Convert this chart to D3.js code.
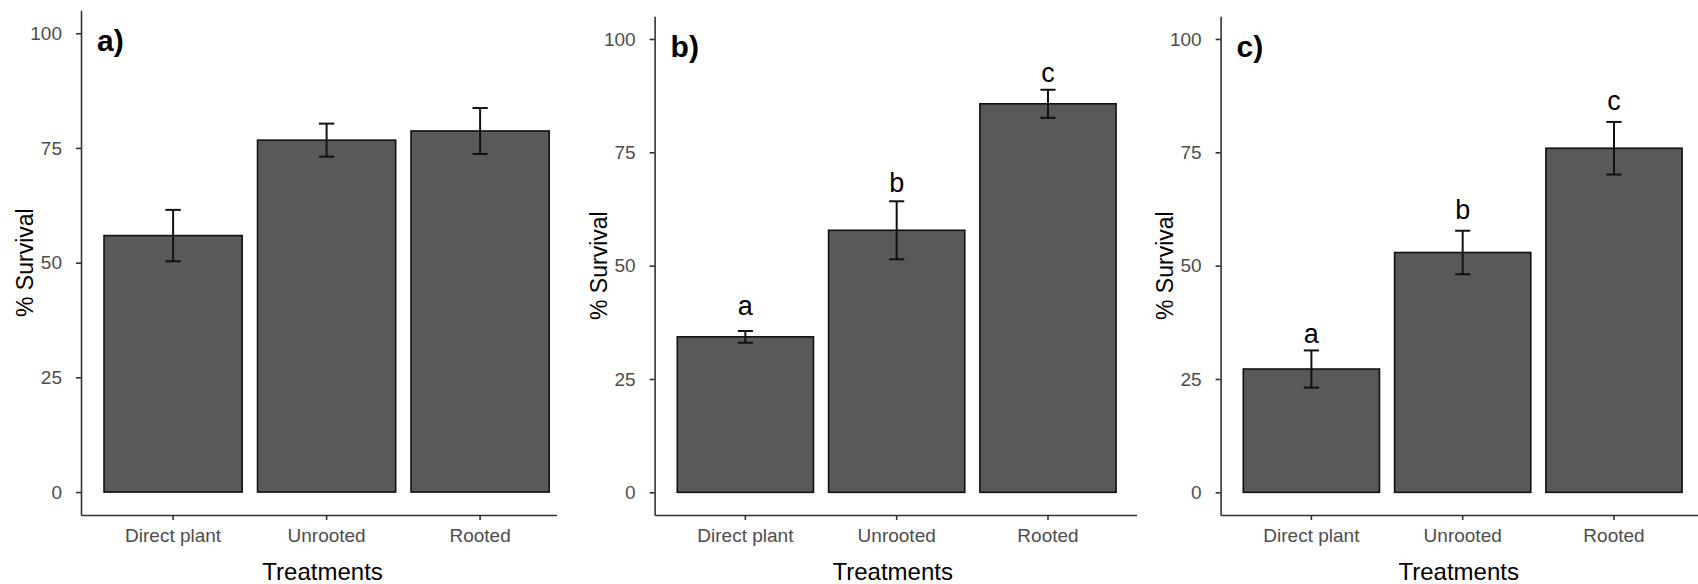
<!DOCTYPE html>
<html>
<head>
<meta charset="utf-8">
<script src="https://cdn.jsdelivr.net/npm/d3@7"></script>
<style>
  body { margin: 0; background: #fff; }
  text { font-family: "Liberation Sans", Arial, sans-serif; }
</style>
</head>
<body>
<script>
var WIDTH = 1698;
var HEIGHT = 584;

var CATEGORIES = ['Direct plant', 'Unrooted', 'Rooted'];
var Y_TICKS = [0, 25, 50, 75, 100];
var PANEL_NAMES = ['a)', 'b)', 'c)'];

// % survival and standard error, one array per panel
var SURVIVAL_A = [55.9, 76.7, 78.7];
var SE_A = [5.6, 3.6, 5.0];
var SURVIVAL_B = [34.3, 57.8, 85.7];
var SE_B = [1.3, 6.4, 3.1];
var SURVIVAL_C = [27.2, 52.9, 75.9];
var SE_C = [4.1, 4.8, 5.8];

// significance letters (panel a has none)
var LETTERS_A = [];
var LETTERS_B = ['a', 'b', 'c'];
var LETTER_Y_B = [39.1, 66.3, 90.4];
var LETTERS_C = ['a', 'b', 'c'];
var LETTER_Y_C = [33.0, 60.4, 84.3];

var BAR_COLOR = '#595959';
var TEXT_GREY = '#4d4d4d';
var AXIS_COLOR = '#333333';

var panels = [
    {name: PANEL_NAMES[0], values: SURVIVAL_A, se: SE_A, letters: LETTERS_A, letterY: [],
     left: 81, top: 10.3, bottom: 515, step: 153.5, clipRight: 557},
    {name: PANEL_NAMES[1], values: SURVIVAL_B, se: SE_B, letters: LETTERS_B, letterY: LETTER_Y_B,
     left: 654.6, top: 16.3, bottom: 515, step: 151.3, clipRight: 1137},
    {name: PANEL_NAMES[2], values: SURVIVAL_C, se: SE_C, letters: LETTERS_C, letterY: LETTER_Y_C,
     left: 1220.6, top: 16.3, bottom: 515, step: 151.3, clipRight: 1698}
];

var svg = d3.select('body')
    .append('svg')
        .attr('width', WIDTH)
        .attr('height', HEIGHT);

function drawPanel(p, i) {
    var x = d3.scaleBand()
        .domain(CATEGORIES)
        .range([p.left, p.left + 3.2 * p.step])
        .paddingInner(0.1)
        .paddingOuter(0.15);

    var y = d3.scaleLinear()
        .domain([-5, 105])
        .range([p.bottom, p.top]);

    var clipId = 'clip' + i;
    svg.append('clipPath')
        .attr('id', clipId)
        .append('rect')
            .attr('x', p.left - 100)
            .attr('y', 0)
            .attr('width', p.clipRight - p.left + 100)
            .attr('height', HEIGHT);

    var g = svg.append('g').attr('clip-path', 'url(#' + clipId + ')');

    var rows = CATEGORIES.map(function (c, k) {
        return {cat: c, v: p.values[k], se: p.se[k]};
    });

    g.selectAll('rect.bar')
        .data(rows)
        .enter()
        .append('rect')
            .attr('class', 'bar')
            .attr('x', function (d) { return x(d.cat); })
            .attr('width', x.bandwidth())
            .attr('y', function (d) { return y(d.v); })
            .attr('height', function (d) { return y(0) - y(d.v); })
            .style('fill', BAR_COLOR)
            .style('stroke', '#111')
            .style('stroke-width', 1.6);

    // error bars
    var capW = 0.1 * x.step();
    var eb = g.selectAll('g.err')
        .data(rows)
        .enter()
        .append('g')
            .attr('class', 'err')
            .style('stroke', '#111')
            .style('stroke-width', 2);
    eb.append('line')
        .attr('x1', function (d) { return x(d.cat) + x.bandwidth() / 2; })
        .attr('x2', function (d) { return x(d.cat) + x.bandwidth() / 2; })
        .attr('y1', function (d) { return y(d.v - d.se); })
        .attr('y2', function (d) { return y(d.v + d.se); });
    eb.append('line')
        .attr('x1', function (d) { return x(d.cat) + x.bandwidth() / 2 - capW / 2; })
        .attr('x2', function (d) { return x(d.cat) + x.bandwidth() / 2 + capW / 2; })
        .attr('y1', function (d) { return y(d.v + d.se); })
        .attr('y2', function (d) { return y(d.v + d.se); });
    eb.append('line')
        .attr('x1', function (d) { return x(d.cat) + x.bandwidth() / 2 - capW / 2; })
        .attr('x2', function (d) { return x(d.cat) + x.bandwidth() / 2 + capW / 2; })
        .attr('y1', function (d) { return y(d.v - d.se); })
        .attr('y2', function (d) { return y(d.v - d.se); });

    // letters above bars
    g.selectAll('text.letter')
        .data(p.letters)
        .enter()
        .append('text')
            .attr('class', 'letter')
            .attr('x', function (d, k) { return x(CATEGORIES[k]) + x.bandwidth() / 2; })
            .attr('y', function (d, k) { return y(p.letterY[k]); })
            .attr('text-anchor', 'middle')
            .style('font-size', '27px')
            .style('fill', '#000')
            .text(function (d) { return d; });

    // axes
    var xAxis = g.append('g')
        .attr('transform', 'translate(0,' + p.bottom + ')')
        .call(d3.axisBottom(x).tickSize(5).tickSizeOuter(0).tickPadding(9));

    var yAxis = svg.append('g')
        .attr('transform', 'translate(' + p.left + ',0)')
        .call(d3.axisLeft(y).tickValues(Y_TICKS).tickSize(5).tickSizeOuter(0).tickPadding(14));

    [xAxis, yAxis].forEach(function (a) {
        a.select('.domain').style('stroke', AXIS_COLOR).style('stroke-width', 1.6);
        a.selectAll('.tick line').style('stroke', AXIS_COLOR).style('stroke-width', 1.6);
        a.selectAll('.tick text')
            .style('font-size', '19px')
            .style('fill', TEXT_GREY)
            .style('font-family', '"Liberation Sans", Arial, sans-serif');
    });

    // axis titles
    svg.append('text')
        .attr('x', x('Unrooted') + x.bandwidth() / 2 - 4)
        .attr('y', 580)
        .attr('text-anchor', 'middle')
        .style('font-size', '24px')
        .style('fill', '#000')
        .text('Treatments');

    svg.append('text')
        .attr('transform', 'translate(' + (p.left - 48) + ',' + ((p.top + p.bottom) / 2) + ') rotate(-90)')
        .attr('text-anchor', 'middle')
        .style('font-size', '23px')
        .style('fill', '#000')
        .text('% Survival');

    // panel label
    svg.append('text')
        .attr('x', p.left + 16)
        .attr('y', y(100) + 18)
        .style('font-size', '30px')
        .style('font-weight', 'bold')
        .style('fill', '#000')
        .text(p.name);
}

panels.forEach(drawPanel);
</script>
</body>
</html>
